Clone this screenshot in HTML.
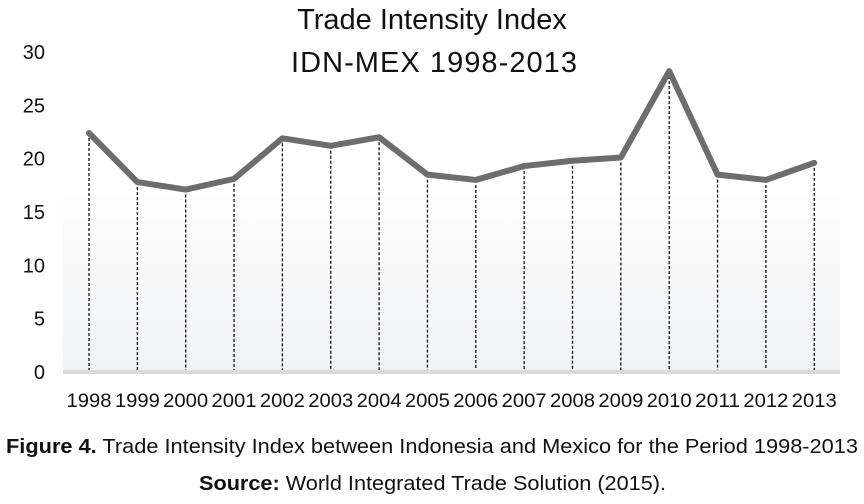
<!DOCTYPE html>
<html><head><meta charset="utf-8"><style>
body{margin:0;background:#fff;}
svg{display:block;font-family:"Liberation Sans",sans-serif;}
</style></head><body>
<svg id="chart" width="864" height="504" viewBox="0 0 864 504">
<defs><linearGradient id="bg" x1="0" y1="0" x2="0" y2="1"><stop offset="0" stop-color="#fdfdfd"/><stop offset="1" stop-color="#f1f2f4"/></linearGradient></defs>
<rect x="63" y="195" width="777" height="177" fill="url(#bg)"/>
<text x="432" y="29" font-size="29" text-anchor="middle" fill="#111">Trade Intensity Index</text>
<text x="434" y="72" font-size="29" text-anchor="middle" fill="#111" textLength="286">IDN-MEX 1998-2013</text>
<g id="yaxis"></g><g id="drops"></g><g id="xaxis"></g><g id="line"></g>
<rect x="63" y="370" width="777" height="4" fill="#d9d9d9"/>
<text x="6" y="453" font-size="20" fill="#111" textLength="852" lengthAdjust="spacingAndGlyphs"><tspan font-weight="bold">Figure 4.</tspan> Trade Intensity Index between Indonesia and Mexico for the Period 1998-2013</text>
<text x="199" y="490" font-size="20" fill="#111" textLength="467" lengthAdjust="spacingAndGlyphs"><tspan font-weight="bold">Source:</tspan> World Integrated Trade Solution (2015).</text>
</svg>
<script>
const years=["1998","1999","2000","2001","2002","2003","2004","2005","2006","2007","2008","2009","2010","2011","2012","2013"];
const values=[22.4,17.8,17.1,18.1,21.9,21.2,22.0,18.5,18.0,19.3,19.8,20.1,28.2,18.5,18.0,19.6];
const yTicks=[0,5,10,15,20,25,30];
const NS="http://www.w3.org/2000/svg";
const xs=i=>89+i*48.35;
const ys=v=>372-v*10.67;
function mk(t,a,p){const e=document.createElementNS(NS,t);for(const k in a)e.setAttribute(k,a[k]);p.appendChild(e);return e;}
const ya=document.getElementById('yaxis');
yTicks.forEach(t=>{const e=mk('text',{x:45,y:ys(t)+7,'font-size':20,'text-anchor':'end',fill:'#111'},ya);e.textContent=t;

});
const xa=document.getElementById('xaxis'),dr=document.getElementById('drops');
years.forEach((y,i)=>{const e=mk('text',{x:xs(i),y:407,'font-size':19,'text-anchor':'middle',fill:'#111',textLength:45,lengthAdjust:'spacingAndGlyphs'},xa);e.textContent=y;


const l=mk('line',{x1:xs(i),x2:xs(i),y1:ys(values[i]),y2:371,stroke:'#111','stroke-width':1.3,'stroke-dasharray':'3,2'},dr);

});
const p=mk('polyline',{points:values.map((v,i)=>xs(i)+','+ys(v)).join(' '),fill:'none',stroke:'#6d6d6d','stroke-width':6,'stroke-linejoin':'round','stroke-linecap':'round'},document.getElementById('line'));


</script>
</body></html>
